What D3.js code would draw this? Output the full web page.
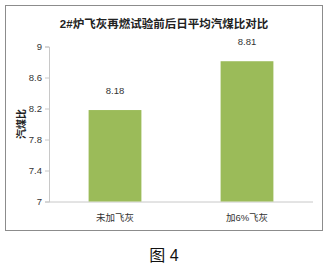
<!DOCTYPE html>
<html>
<head>
<meta charset="UTF-8">
<title>chart</title>
<script src="https://cdnjs.cloudflare.com/ajax/libs/d3/7.8.5/d3.min.js"></script>
<style>
	body { margin: 0; background: #fff; }
	text { font-family: "Liberation Sans", "Noto Sans CJK SC", sans-serif; }
</style>
</head>
<body>
<script type="text/javascript">
// chart data
var categories = ["未加飞灰", "加6%飞灰"];
var values = [8.18, 8.81];
var yTicks = [7, 7.4, 7.8, 8.2, 8.6, 9];

var width = 330, height = 268;
var svg = d3.select("body").append("svg")
	.attr("width", width)
	.attr("height", height);

// outer frame
svg.append("rect")
	.attr("x", 5.5).attr("y", 5.5)
	.attr("width", 317).attr("height", 225)
	.attr("fill", "#fff")
	.attr("stroke", "#8c8c8c")
	.attr("stroke-width", 1);

var plot = { left: 49, right: 313, top: 46.5, bottom: 201.5 };

var x = d3.scaleBand().domain(categories).range([plot.left, plot.right]).paddingInner(0.6).paddingOuter(0.3);
var y = d3.scaleLinear().domain([7, 9]).range([plot.bottom, plot.top]);

// y axis
var yAxis = svg.append("g")
	.attr("transform", "translate(" + plot.left + ",0)")
	.call(d3.axisLeft(y).tickValues(yTicks).tickSize(4).tickPadding(3).tickFormat(d3.format("")));
yAxis.select(".domain").attr("stroke", "#c8c8c8");
yAxis.selectAll(".tick line").attr("stroke", "#c8c8c8");
yAxis.selectAll(".tick text").attr("font-size", 9.5).attr("fill", "#333");

// x axis line
svg.append("line")
	.attr("x1", plot.left).attr("x2", plot.right)
	.attr("y1", plot.bottom + 0.5).attr("y2", plot.bottom + 0.5)
	.attr("stroke", "#c8c8c8");

// bars
svg.selectAll("rect.bar")
	.data(values)
	.enter().append("rect")
	.classed("bar", true)
	.attr("x", function(d, i) { return x(categories[i]); })
	.attr("y", function(d) { return y(d); })
	.attr("width", x.bandwidth())
	.attr("height", function(d) { return y(7) - y(d); })
	.attr("fill", "#9BBB59");

// value labels
svg.selectAll("text.val")
	.data(values)
	.enter().append("text")
	.classed("val", true)
	.attr("x", function(d, i) { return x(categories[i]) + x.bandwidth() / 2; })
	.attr("y", function(d) { return y(d) - 16; })
	.attr("text-anchor", "middle")
	.attr("font-size", 9.5)
	.attr("fill", "#333")
	.text(function(d) { return d.toFixed(2); });

// category labels
svg.selectAll("text.cat")
	.data(categories)
	.enter().append("text")
	.classed("cat", true)
	.attr("x", function(d) { return x(d) + x.bandwidth() / 2; })
	.attr("y", 221)
	.attr("text-anchor", "middle")
	.attr("font-size", 9.5)
	.attr("fill", "#333")
	.text(function(d) { return d; });

// title
svg.append("text")
	.attr("x", 164).attr("y", 28)
	.attr("text-anchor", "middle")
	.attr("font-size", 11.5)
	.attr("font-weight", "bold")
	.attr("fill", "#222")
	.text("2#炉飞灰再燃试验前后日平均汽煤比对比");

// y axis title
svg.append("text")
	.attr("transform", "translate(25,124) rotate(-90)")
	.attr("text-anchor", "middle")
	.attr("font-size", 10)
	.attr("font-weight", "bold")
	.attr("fill", "#222")
	.text("汽煤比");

// caption
svg.append("text")
	.attr("x", 164).attr("y", 261)
	.attr("text-anchor", "middle")
	.attr("font-size", 16)
	.attr("fill", "#111")
	.text("图 4");
</script>
</body>
</html>
